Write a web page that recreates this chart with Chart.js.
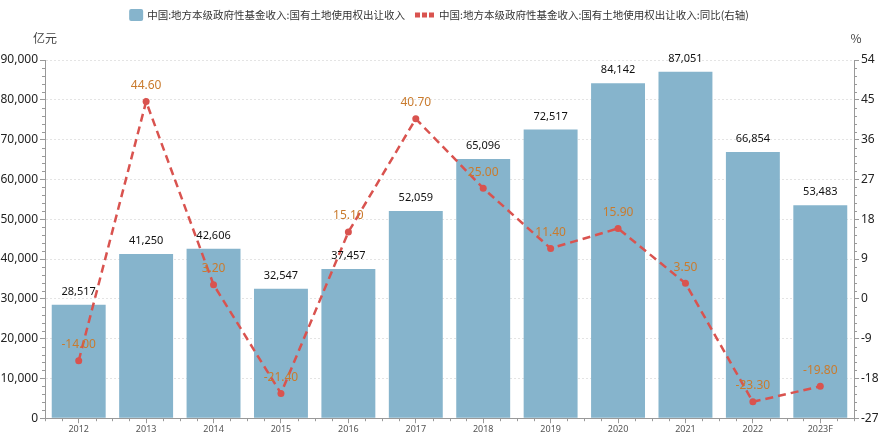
<!DOCTYPE html>
<html>
<head>
<meta charset="utf-8">
<script src="https://cdn.jsdelivr.net/npm/chart.js@4.4.0/dist/chart.umd.min.js"></script>
<style>
  body { margin: 0; background: #ffffff; }
  canvas { display: block; }
</style>
</head>
<body>
<canvas id="landChart" width="880" height="436"></canvas>
<script>
// data
var years = ['2012', '2013', '2014', '2015', '2016', '2017', '2018', '2019', '2020', '2021', '2022', '2023F'];
var landIncome = [28517, 41250, 42606, 32547, 37457, 52059, 65096, 72517, 84142, 87051, 66854, 53483];
var yoyGrowth = [-14.00, 44.60, 3.20, -21.40, 15.10, 40.70, 25.00, 11.40, 15.90, 3.50, -23.30, -19.80];
var leftTicks = [0, 10000, 20000, 30000, 40000, 50000, 60000, 70000, 80000, 90000];
var rightTicks = [-27, -18, -9, 0, 9, 18, 27, 36, 45, 54];

var barName = '中国:地方本级政府性基金收入:国有土地使用权出让收入';
var lineName = '中国:地方本级政府性基金收入:国有土地使用权出让收入:同比(右轴)';

var BAR_COLOR = '#86B4CC';
var LINE_COLOR = '#D9534F';
var LABEL_ORANGE = '#C97B2E';
var FONT = '"Noto Sans", "Noto Sans CJK SC", sans-serif';
var CJK_FONT = '"Noto Sans CJK SC", sans-serif';

// legend, unit labels, value labels and minor ticks
var extrasPlugin = {
    id: 'extras',
    afterDraw: function(chart) {
        var ctx = chart.ctx;
        var area = chart.chartArea;
        var yScale = chart.scales.y;
        var y1Scale = chart.scales.y1;

        ctx.save();

        // legend
        ctx.font = '10.5px ' + CJK_FONT;
        var w1 = ctx.measureText(barName).width;
        var w2 = ctx.measureText(lineName).width;
        var total = 18 + w1 + 10 + 24 + w2;
        var lx = 439 - total / 2;
        var ly = 15;
        ctx.fillStyle = BAR_COLOR;
        ctx.beginPath();
        ctx.roundRect(lx, ly - 6, 14, 12, 2);
        ctx.fill();
        ctx.fillStyle = '#333333';
        ctx.textBaseline = 'middle';
        ctx.textAlign = 'left';
        ctx.fillText(barName, lx + 18, ly);
        var mx = lx + 18 + w1 + 10;
        ctx.fillStyle = LINE_COLOR;
        for (var i = 0; i < 3; i++) {
            ctx.fillRect(mx + i * 7, ly - 2.5, 5, 5);
        }
        ctx.fillStyle = '#333333';
        ctx.fillText(lineName, mx + 24, ly);

        // unit labels
        ctx.font = '12px ' + CJK_FONT;
        ctx.fillStyle = '#444444';
        ctx.textAlign = 'center';
        ctx.fillText('亿元', 45, 38);
        ctx.fillText('%', 856, 38);

        // minor ticks on the value axes
        ctx.strokeStyle = '#999999';
        ctx.lineWidth = 1;
        ctx.beginPath();
        for (var v = 0; v <= 90000; v += 2000) {
            if (v % 10000 === 0) continue;
            var py = Math.round(yScale.getPixelForValue(v)) + 0.5;
            ctx.moveTo(area.left - 3, py);
            ctx.lineTo(area.left, py);
        }
        for (var r = -27; r <= 54; r += 1.8) {
            var rr = Math.round(r * 10) / 10;
            if (Math.abs(rr % 9) < 0.01) continue;
            var ry = Math.round(y1Scale.getPixelForValue(rr)) + 0.5;
            ctx.moveTo(area.right, ry);
            ctx.lineTo(area.right + 3, ry);
        }
        // minor ticks on the category axis
        var step = (area.right - area.left) / years.length;
        for (var k = 0; k <= years.length; k++) {
            var bx = Math.round(area.left + k * step) + 0.5;
            ctx.moveTo(bx, area.bottom);
            ctx.lineTo(bx, area.bottom + 3);
            if (k < years.length) {
                [0.25, 0.75].forEach(function(f) {
                    var qx = Math.round(area.left + (k + f) * step) + 0.5;
                    ctx.moveTo(qx, area.bottom);
                    ctx.lineTo(qx, area.bottom + 3);
                });
            }
        }
        ctx.stroke();

        // bar value labels
        var barMeta = chart.getDatasetMeta(0);
        ctx.font = '11px ' + FONT;
        ctx.fillStyle = '#111111';
        ctx.textAlign = 'center';
        ctx.textBaseline = 'middle';
        barMeta.data.forEach(function(bar, idx) {
            ctx.fillText(landIncome[idx].toLocaleString('en-US'), bar.x, bar.y - 13);
        });

        // line value labels
        var lineMeta = chart.getDatasetMeta(1);
        ctx.font = '12px ' + FONT;
        ctx.fillStyle = LABEL_ORANGE;
        lineMeta.data.forEach(function(pt, idx) {
            ctx.fillText(yoyGrowth[idx].toFixed(2), pt.x, pt.y - 16);
        });

        ctx.restore();
    }
};

new Chart(document.getElementById('landChart').getContext('2d'), {
    type: 'bar',
    data: {
        labels: years,
        datasets: [{
            label: barName,
            data: landIncome,
            backgroundColor: BAR_COLOR,
            categoryPercentage: 0.8,
            barPercentage: 1.0,
            yAxisID: 'y',
            order: 2
        }, {
            type: 'line',
            label: lineName,
            data: yoyGrowth,
            borderColor: LINE_COLOR,
            backgroundColor: LINE_COLOR,
            borderWidth: 2.5,
            borderDash: [8, 5],
            pointRadius: 3.5,
            pointBorderWidth: 0,
            pointBackgroundColor: LINE_COLOR,
            tension: 0,
            yAxisID: 'y1',
            order: 1
        }]
    },
    options: {
        responsive: false,
        animation: false,
        layout: { padding: { top: 60, left: 0, right: 2, bottom: 0 } },
        plugins: {
            legend: { display: false },
            tooltip: { enabled: false }
        },
        scales: {
            x: {
                offset: true,
                grid: {
                    offset: false,
                    drawOnChartArea: false,
                    drawTicks: true,
                    tickLength: 5,
                    tickColor: '#999999'
                },
                border: { color: '#999999' },
                ticks: {
                    color: '#555555',
                    font: { size: 9, family: FONT },
                    padding: 1
                }
            },
            y: {
                position: 'left',
                min: 0,
                max: 90000,
                afterBuildTicks: function(scale) {
                    scale.ticks = leftTicks.map(function(v) { return { value: v }; });
                },
                afterFit: function(scale) { scale.width = 45; },
                grid: {
                    color: '#E4E4E4',
                    tickColor: '#999999',
                    tickLength: 5
                },
                border: { color: '#999999', dash: [2, 2] },
                ticks: {
                    color: '#222222',
                    font: { size: 12, family: FONT },
                    padding: 2,
                    callback: function(value) { return value.toLocaleString('en-US'); }
                }
            },
            y1: {
                position: 'right',
                min: -27,
                max: 54,
                afterBuildTicks: function(scale) {
                    scale.ticks = rightTicks.map(function(v) { return { value: v }; });
                },
                afterFit: function(scale) { scale.width = 24; },
                grid: {
                    drawOnChartArea: false,
                    tickColor: '#999999',
                    tickLength: 5
                },
                border: { color: '#999999' },
                ticks: {
                    color: '#222222',
                    font: { size: 12, family: FONT },
                    padding: 2
                }
            }
        }
    },
    plugins: [extrasPlugin]
});
</script>
</body>
</html>
